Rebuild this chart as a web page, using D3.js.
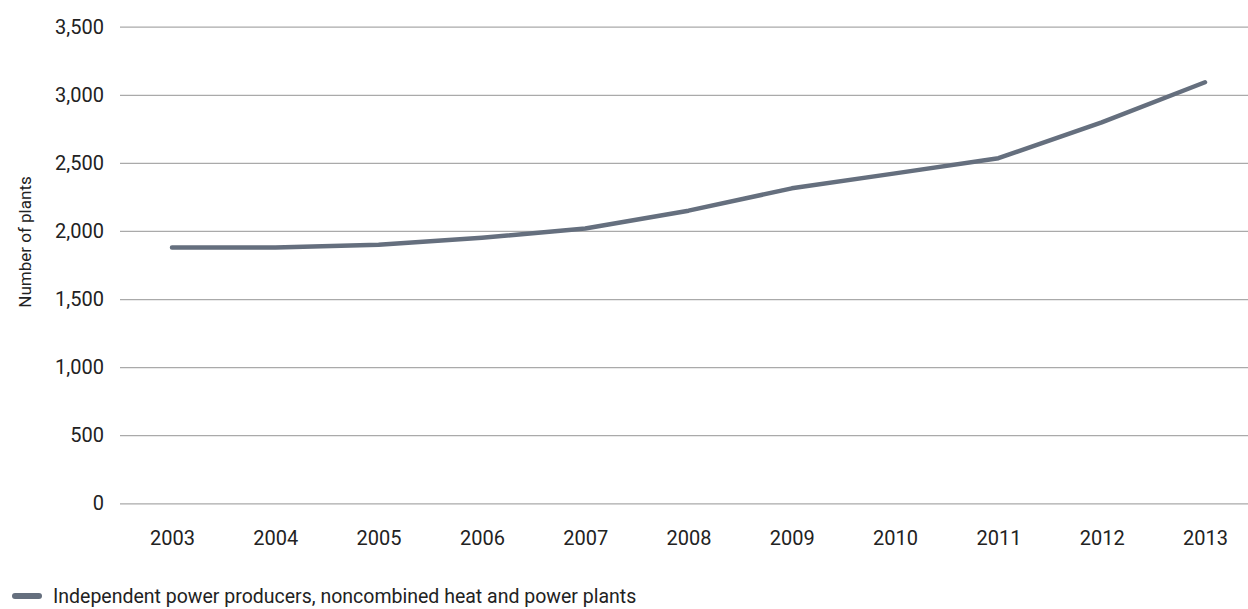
<!DOCTYPE html>
<html><head><meta charset="utf-8">
<script src="https://cdn.jsdelivr.net/npm/d3@7"></script>
<style>body{margin:0;background:#fff;} svg{display:block;} text{font-family:Roboto,sans-serif;fill:#222;}</style>
</head><body>
<svg id="c" width="1248" height="609"></svg>
<script>
const years = ["2003","2004","2005","2006","2007","2008","2009","2010","2011","2012","2013"];
const plants = [1878, 1878, 1898, 1950, 2018, 2149, 2313, 2423, 2534, 2798, 3092];
const yTicks = [0, 500, 1000, 1500, 2000, 2500, 3000, 3500];
const seriesName = "Independent power producers, noncombined heat and power plants";
const yTitle = "Number of plants";

const svg = d3.select("#c");
const x = d3.scalePoint().domain(years).range([172, 1205]);
const y = d3.scaleLinear().domain([0, 3500]).range([503.3, 26.7]);
const fmt = d3.format(",");

const yAxis = svg.append("g").attr("transform","translate(120,0)")
  .call(d3.axisLeft(y).tickValues(yTicks).tickFormat(fmt).tickSize(-1128).tickPadding(16));
yAxis.select(".domain").remove();
yAxis.selectAll(".tick line").attr("stroke","#aaa").attr("stroke-width",1.2);
yAxis.selectAll(".tick text").style("font-size","20px").attr("fill","#222");

const xAxis = svg.append("g").attr("transform","translate(0,503.3)")
  .call(d3.axisBottom(x).tickSize(0).tickPadding(28));
xAxis.select(".domain").remove();
xAxis.selectAll(".tick text").style("font-size","20px").attr("fill","#222");

svg.append("text").attr("transform","translate(31,242) rotate(-90)")
  .attr("text-anchor","middle").style("font-size","17px").text(yTitle);

const line = d3.line().x((d,i)=>x(years[i])).y(d=>y(d));
svg.append("path").datum(plants).attr("d", line)
  .attr("fill","none").attr("stroke","#656f7e").attr("stroke-width",4.5)
  .attr("stroke-linecap","round").attr("stroke-linejoin","round");

const lg = svg.append("g");
lg.append("line").attr("x1",15).attr("x2",39).attr("y1",596).attr("y2",596)
  .attr("stroke","#656f7e").attr("stroke-width",6).attr("stroke-linecap","round");
lg.append("text").attr("x",53).attr("y",603).style("font-size","19.5px").text(seriesName);
</script>
</body></html>
